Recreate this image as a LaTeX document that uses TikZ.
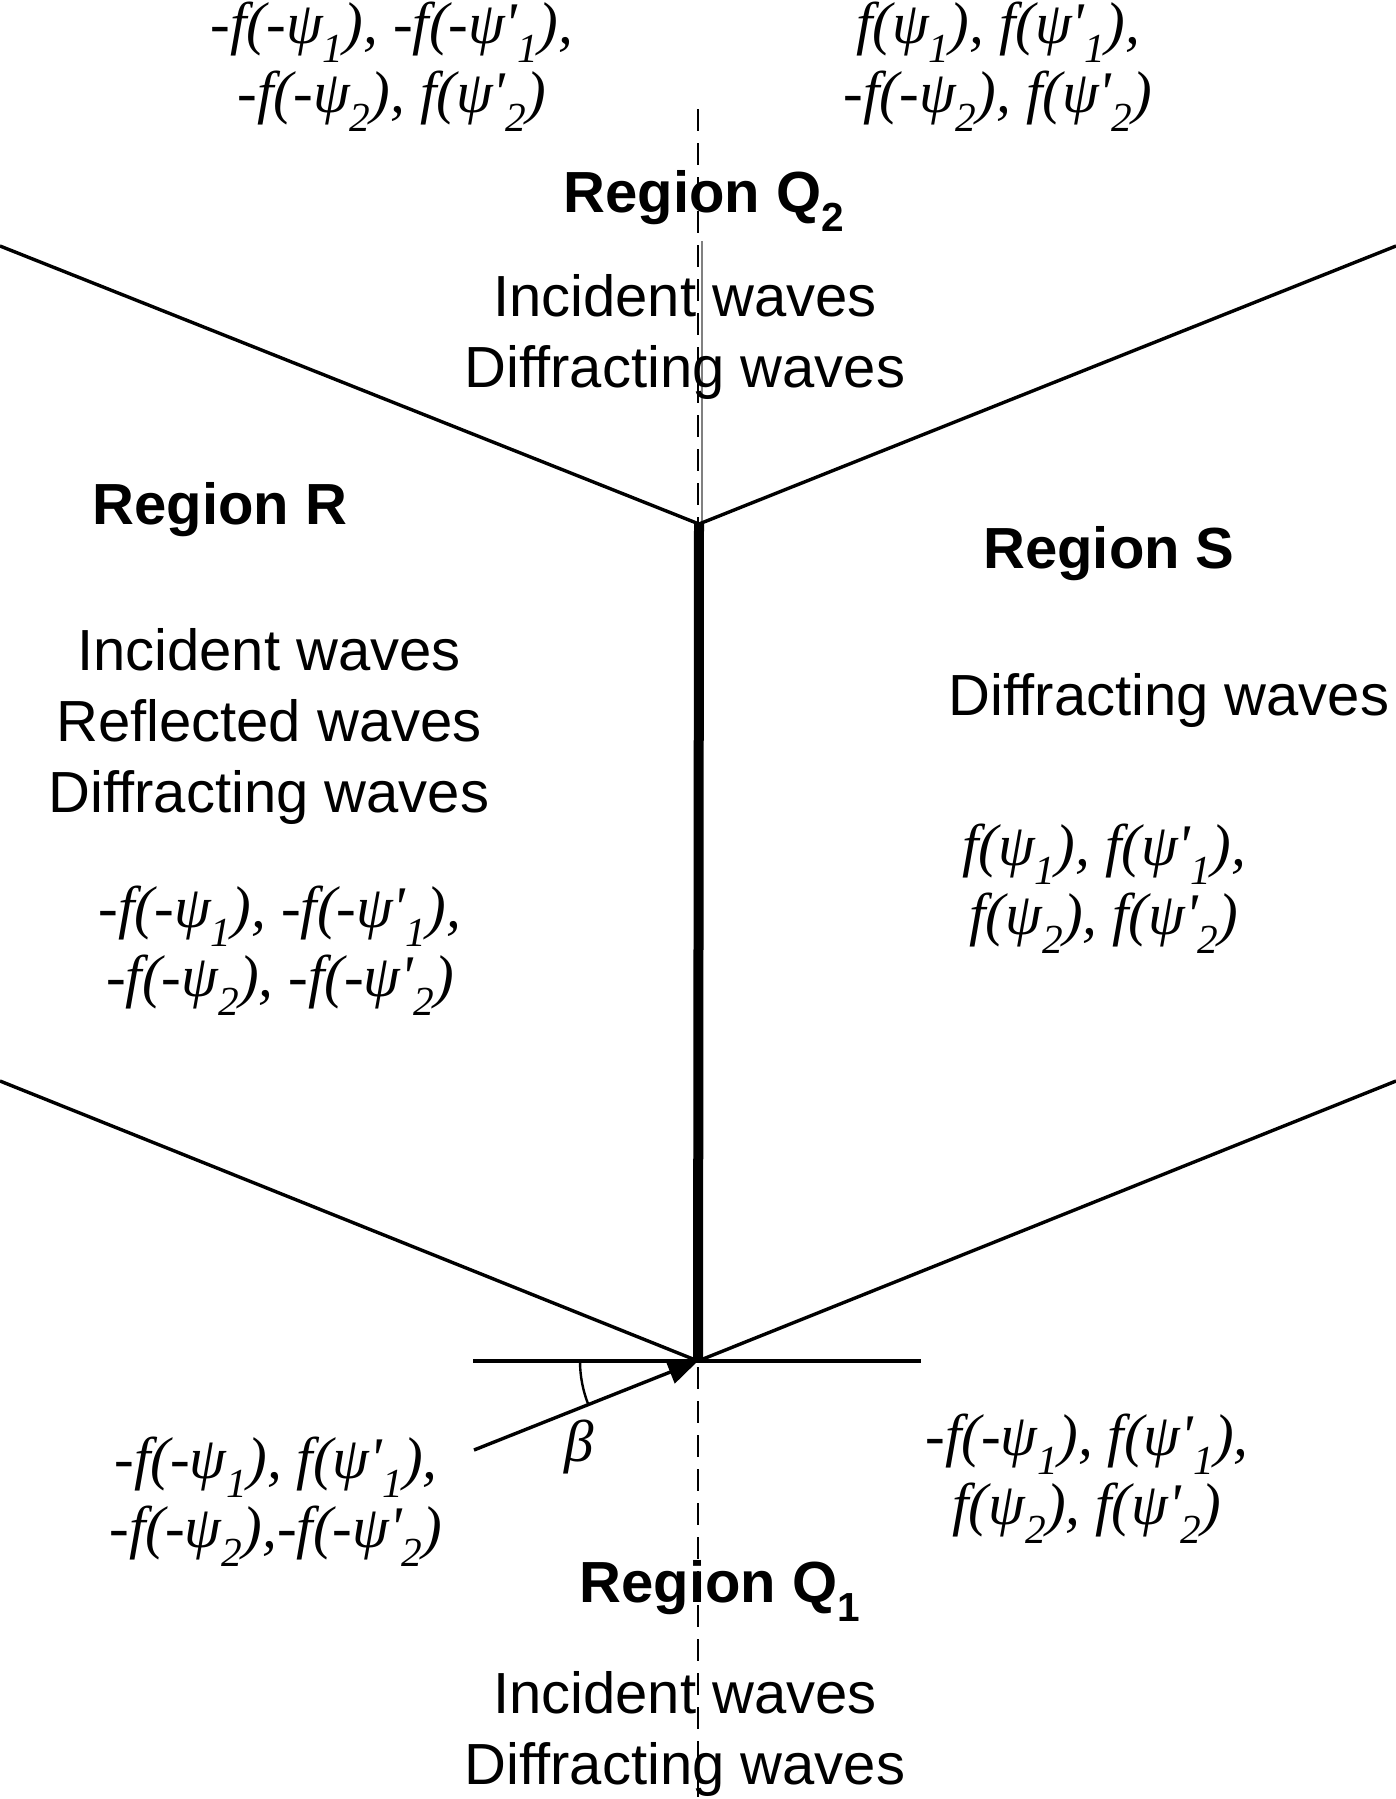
\documentclass[tikz,border=0pt]{standalone}
\usepackage{fontspec}
\setmainfont{Liberation Serif}
\setsansfont{Liberation Sans}
\usetikzlibrary{arrows.meta}
\newcommand{\sbx}[1]{\textsubscript{#1}}
\newcommand{\pr}{\textquotesingle}
\begin{document}
\begin{tikzpicture}[x=1pt,y=-1pt,
  sanslbl/.style={font=\sffamily\fontsize{58}{71}\selectfont, align=center, inner sep=0pt},
  boldlbl/.style={font=\sffamily\bfseries\fontsize{58}{71}\selectfont, inner sep=0pt},
  flbl/.style={font=\itshape\fontsize{59}{69}\selectfont, align=center, inner sep=0pt},
  thinline/.style={line width=3.4pt},
  thickline/.style={line width=10pt},
  dashline/.style={line width=2.4pt, dash pattern=on 22pt off 12pt},
  greyline/.style={line width=1.2pt, gray}]
\useasboundingbox (0,0) rectangle (1396,1799);
% coordinates
\coordinate (UV) at (699,524);
\coordinate (LV) at (698,1361);
\coordinate (UL) at (0,246);
\coordinate (UR) at (1396,246);
\coordinate (LL) at (0,1081);
\coordinate (LR) at (1396,1081);
\coordinate (HL) at (473,1361);
\coordinate (HR) at (921,1361);
\coordinate (AS) at (474,1450);
\coordinate (DT) at (698,109);
\coordinate (DB) at (698,1799);
\coordinate (GT) at (702,241);
\coordinate (GB) at (702,524);
\coordinate (AA) at (580,1361);
% lines
\draw[dashline] (DT) -- (DB);
\draw[greyline] (GT) -- (GB);
\draw[thinline] (UL) -- (UV) -- (UR);
\draw[thinline] (LL) -- (LV) -- (LR);
\draw[thinline] (HL) -- (HR);
\draw[thickline] (UV) -- (LV);
\draw[thinline, -{Triangle[length=30pt,width=24pt]}] (AS) -- (LV);
\draw[line width=2.4pt] (AA) arc[start angle=180, end angle=158.2, radius=118];
% labels
\node[flbl] (ftl) at (392,67) {-f(-ψ\sbx{1}), -f(-ψ\pr\sbx{1}),\\ -f(-ψ\sbx{2}), f(ψ\pr\sbx{2})};
\node[flbl] (ftr) at (998,67) {f(ψ\sbx{1}), f(ψ\pr\sbx{1}),\\ -f(-ψ\sbx{2}), f(ψ\pr\sbx{2})};
\node[boldlbl] (q2) at (704,201) {Region Q\sbx{2}};
\node[sanslbl] (q2w) at (685,337) {Incident waves\\ Diffracting waves};
\node[boldlbl] (rr) at (220,510) {Region R};
\node[boldlbl] (rs) at (1109,554) {Region S};
\node[sanslbl] (rw) at (269,726) {Incident waves\\ Reflected waves\\ Diffracting waves};
\node[sanslbl] (sw) at (1169,700) {Diffracting waves};
\node[flbl] (fr) at (280,951) {-f(-ψ\sbx{1}), -f(-ψ\pr\sbx{1}),\\ -f(-ψ\sbx{2}), -f(-ψ\pr\sbx{2})};
\node[flbl] (fs) at (1104,889) {f(ψ\sbx{1}), f(ψ\pr\sbx{1}),\\ f(ψ\sbx{2}), f(ψ\pr\sbx{2})};
\node[flbl] (beta) at (579,1447) {β};
\node[flbl] (fbl) at (276,1502) {-f(-ψ\sbx{1}), f(ψ\pr\sbx{1}),\\ -f(-ψ\sbx{2}),-f(-ψ\pr\sbx{2})};
\node[flbl] (fbr) at (1087,1479) {-f(-ψ\sbx{1}), f(ψ\pr\sbx{1}),\\ f(ψ\sbx{2}), f(ψ\pr\sbx{2})};
\node[boldlbl] (q1) at (720,1591) {Region Q\sbx{1}};
\node[sanslbl] (q1w) at (685,1734) {Incident waves\\ Diffracting waves};
\end{tikzpicture}
\end{document}
